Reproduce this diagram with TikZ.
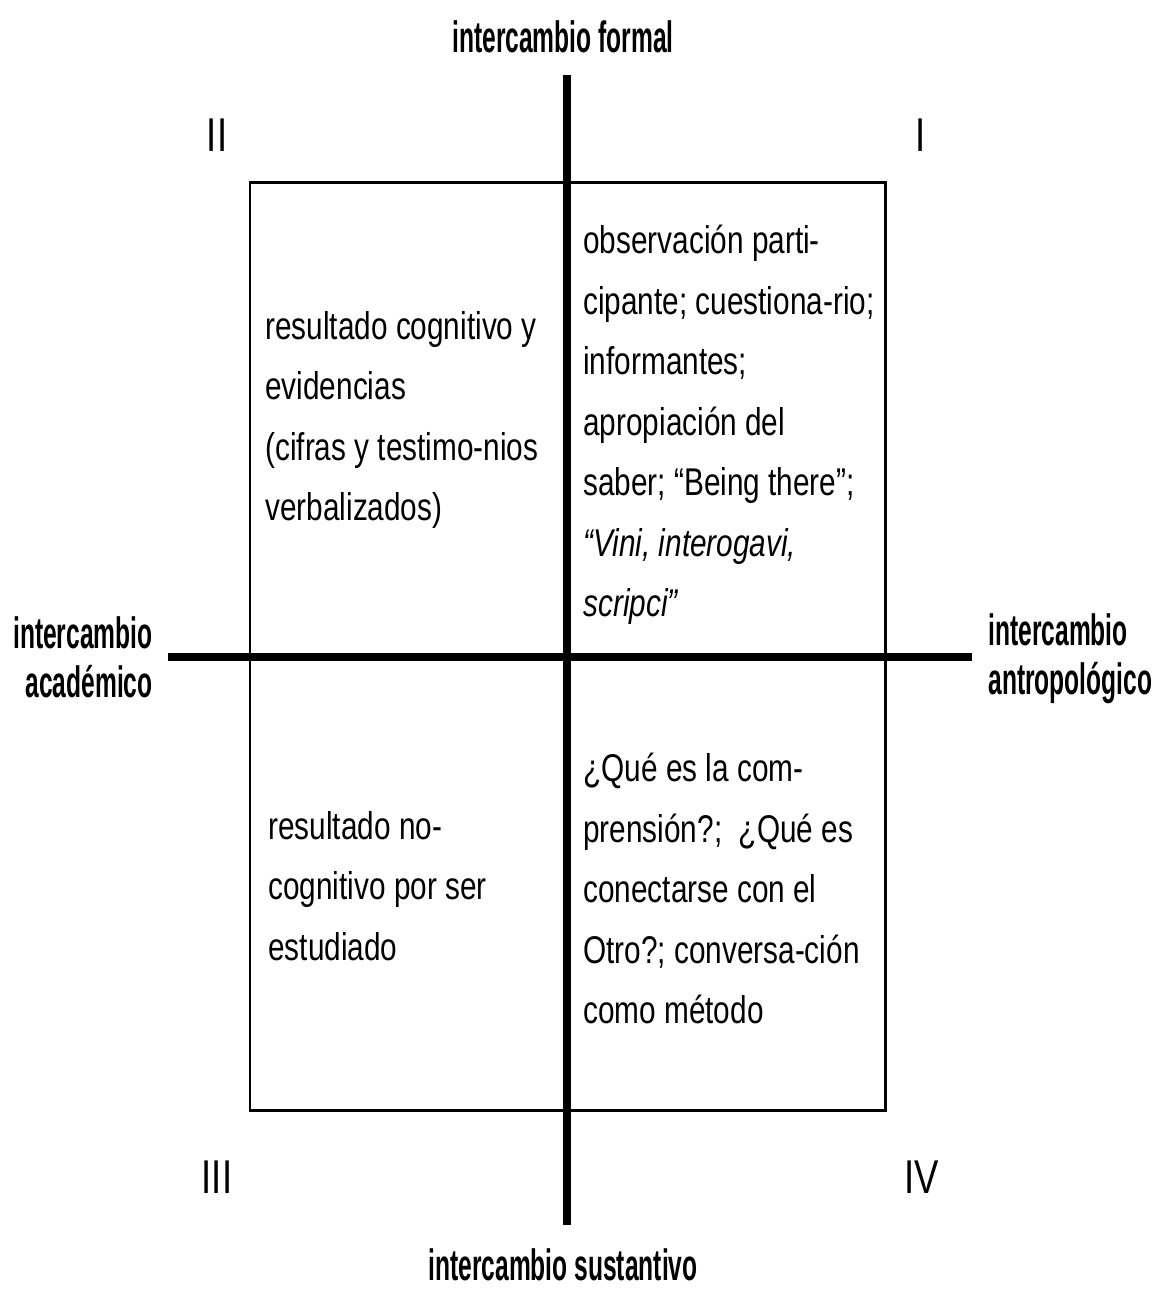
\documentclass[tikz,border=0pt]{standalone}
\usepackage{fontspec}
\setmainfont{Liberation Sans}
\newfontfamily\cellfont[FakeStretch=0.77]{Liberation Sans}
\newfontfamily\axisfont[FakeStretch=0.56]{Liberation Sans}

\tikzset{
    cell/.style={anchor=north west,inner sep=0pt,align=left,
        font=\cellfont\fontsize{22}{34.4}\selectfont},
    axislbl/.style={inner sep=0pt,font=\axisfont\bfseries\fontsize{25}{30}\selectfont},
    quad/.style={inner sep=0pt,font=\cellfont\fontsize{27}{30}\selectfont},
    axis/.style={line width=4.2pt},
}

\begin{document}
\begin{tikzpicture}[x=0.02cm,y=-0.02cm]
    \useasboundingbox (0,0) rectangle (1156,1289);
    % frame
    \draw[line width=1.7pt] (250,182) rectangle (885,1110);
    % axes
    \coordinate (top) at (567,75);
    \coordinate (bot) at (567,1225);
    \coordinate (lft) at (168,657);
    \coordinate (rgt) at (972,657);
    \draw[axis] (top) -- (bot);
    \draw[axis] (lft) -- (rgt);
    % axis labels
    \node[axislbl] (formal) at (563,37) {intercambio formal};
    \node[axislbl] (sustantivo) at (563,1265) {intercambio sustantivo};
    \node[axislbl,align=right,anchor=east] (academico) at (153,657) {intercambio\\[-2pt]acad\'emico};
    \node[axislbl,align=left,anchor=west] (antropologico) at (988,659) {intercambio\\[-2pt]antropol\'ogico};
    % quadrant numbers
    \node[quad] (qI) at (921,135) {I};
    \node[quad] (qII) at (217,135) {II};
    \node[quad] (qIII) at (217,1177) {III};
    \node[quad] (qIV) at (922,1177) {IV};
    % cell texts
    \node[cell] (tI) at (583,225) {observación parti-\\cipante; cuestiona-rio;\\informantes;\\apropiación del\\saber; “Being there”;\\\textit{“Vini, interogavi,}\\\textit{scripci”}};
    \node[cell] (tII) at (265,311) {resultado cognitivo y\\evidencias\\(cifras y testimo-nios\\verbalizados)};
    \node[cell] (tIII) at (268,811) {resultado no-\\cognitivo por ser\\estudiado};
    \node[cell] (tIV) at (583,753) {¿Qué es la com-\\prensión?;\ \ ¿Qué es\\conectarse con el\\Otro?; conversa-ción\\como método};
\end{tikzpicture}
\end{document}
